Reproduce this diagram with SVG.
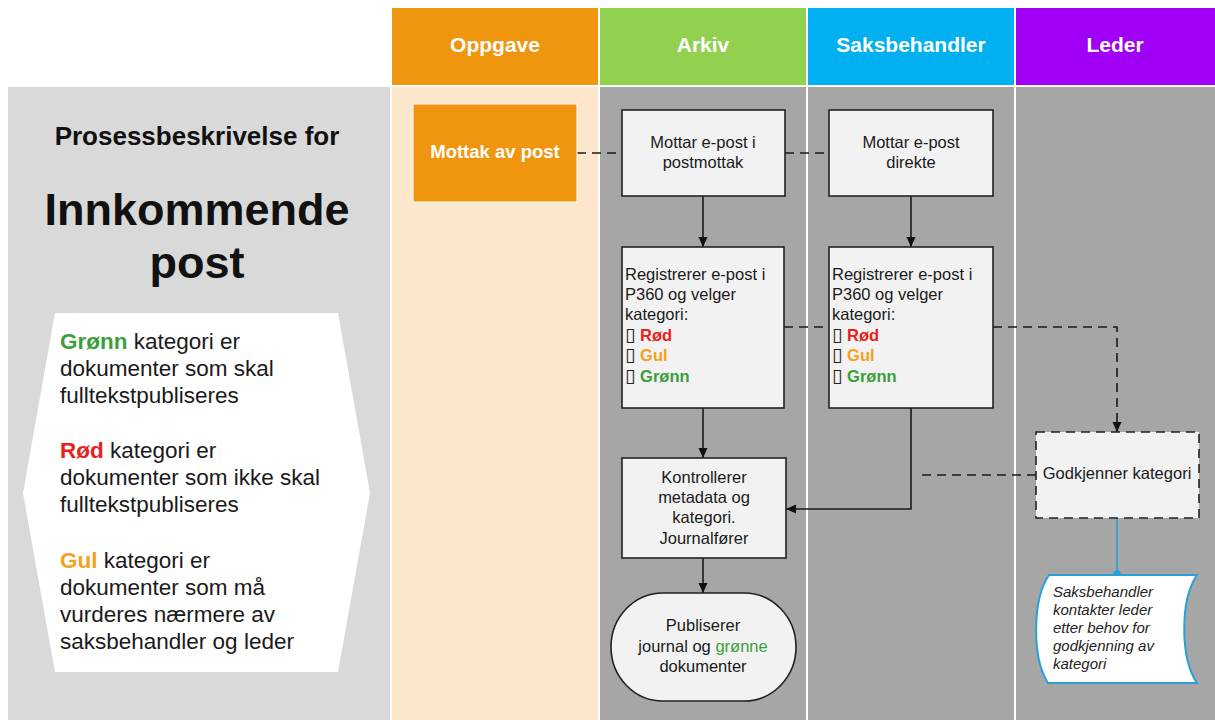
<svg xmlns="http://www.w3.org/2000/svg" width="1215" height="720" viewBox="0 0 1215 720">
<defs>
<style>
.hd{font-family:"Liberation Sans",Arial,sans-serif;font-weight:bold;font-size:21px;fill:#fff;text-anchor:middle}
.tx{font-family:"Liberation Sans",Arial,sans-serif;font-size:16.5px;fill:#1a1a1a}
.mid{text-anchor:middle}
.box{fill:#f2f2f2;stroke:#222;stroke-width:1.6}
.lg{font-family:"Liberation Sans",Arial,sans-serif;font-size:22.5px;fill:#1a1a1a}
.b{font-weight:bold}
.red{fill:#e8221b}
.yel{fill:#f4a11e}
.grn{fill:#3a9f3a}
.cb{font-family:"DejaVu Sans",sans-serif;font-weight:normal;fill:#222;font-size:19px}
.ln{fill:none;stroke:#1a1a1a;stroke-width:1.6}
.dash{stroke-dasharray:9 6}
</style>
<marker id="ah" viewBox="0 0 10 10" refX="10" refY="5" markerWidth="10" markerHeight="10" markerUnits="userSpaceOnUse" orient="auto">
<path d="M0,0.5 L10,5 L0,9.5 Z" fill="#111"/>
</marker>
</defs>
<rect x="0" y="0" width="1215" height="720" fill="#fff"/>
<g id="lanes">
<rect x="392" y="8" width="206" height="77" fill="#f0960e"/>
<rect x="600" y="8" width="206" height="77" fill="#92d050"/>
<rect x="808" y="8" width="206" height="77" fill="#00b0f0"/>
<rect x="1016" y="8" width="199" height="77" fill="#a000f6"/>
<text class="hd" x="495" y="52">Oppgave</text>
<text class="hd" x="703" y="52">Arkiv</text>
<text class="hd" x="911" y="52">Saksbehandler</text>
<text class="hd" x="1115" y="52">Leder</text>
<rect x="8" y="87" width="382" height="633" fill="#d9d9d9"/>
<rect x="392" y="87" width="206" height="633" fill="#fde7cc"/>
<rect x="600" y="87" width="206" height="633" fill="#a6a6a6"/>
<rect x="808" y="87" width="206" height="633" fill="#a6a6a6"/>
<rect x="1016" y="87" width="199" height="633" fill="#a6a6a6"/>
</g>
<g id="title">
<text x="197" y="145" text-anchor="middle" font-family="Liberation Sans, Arial, sans-serif" font-weight="bold" font-size="26" fill="#111">Prosessbeskrivelse for</text>
<text x="197" y="225" text-anchor="middle" font-family="Liberation Sans, Arial, sans-serif" font-weight="bold" font-size="45" fill="#111">Innkommende</text>
<text x="197" y="278" text-anchor="middle" font-family="Liberation Sans, Arial, sans-serif" font-weight="bold" font-size="45" fill="#111">post</text>
</g>
<g id="legend">
<polygon points="55,313 338,313 370,493 338,672 55,672 23,493" fill="#fff"/>
<text class="lg" x="60" y="349"><tspan class="b grn">Grønn</tspan> kategori er</text>
<text class="lg" x="60" y="376">dokumenter som skal</text>
<text class="lg" x="60" y="403">fulltekstpubliseres</text>
<text class="lg" x="60" y="458"><tspan class="b red">Rød</tspan> kategori er</text>
<text class="lg" x="60" y="485">dokumenter som ikke skal</text>
<text class="lg" x="60" y="512">fulltekstpubliseres</text>
<text class="lg" x="60" y="568"><tspan class="b yel">Gul</tspan> kategori er</text>
<text class="lg" x="60" y="595">dokumenter som må</text>
<text class="lg" x="60" y="622">vurderes nærmere av</text>
<text class="lg" x="60" y="649">saksbehandler og leder</text>
</g>
<g id="connectors">
<path class="ln dash" d="M577,153 H621"/>
<path class="ln dash" d="M785,153 H829"/>
<path class="ln" d="M703,196 V247" marker-end="url(#ah)"/>
<path class="ln" d="M911,196 V247" marker-end="url(#ah)"/>
<path class="ln dash" d="M784,327 H829"/>
<path class="ln dash" d="M993,327 H1117 V432" marker-end="url(#ah)"/>
<path class="ln" d="M703,408 V458" marker-end="url(#ah)"/>
<path class="ln" d="M911,408 V509 H786" marker-end="url(#ah)"/>
<path class="ln dash" d="M1036,475 H917"/>
<path class="ln" d="M703,558 V593" marker-end="url(#ah)"/>
<path d="M1117,518 V574" fill="none" stroke="#2a9fd8" stroke-width="1.6"/>
<circle cx="1117" cy="574" r="3.8" fill="#2a9fd8"/>
</g>
<g id="n-mottak">
<rect x="413" y="104" width="164" height="98" fill="#f0960e" stroke="#fff" stroke-width="1"/>
<text x="495" y="158" text-anchor="middle" font-family="Liberation Sans, Arial, sans-serif" font-weight="bold" font-size="18.5" fill="#fff">Mottak av post</text>
</g>
<g id="n-arkiv-mottar">
<rect class="box" x="622" y="110" width="163" height="86"/>
<text class="tx mid" x="703" y="148">Mottar e-post i</text>
<text class="tx mid" x="703" y="168">postmottak</text>
</g>
<g id="n-saks-mottar">
<rect class="box" x="829" y="110" width="164" height="86"/>
<text class="tx mid" x="911" y="148">Mottar e-post</text>
<text class="tx mid" x="911" y="168">direkte</text>
</g>
<g id="n-arkiv-reg">
<rect class="box" x="622" y="247" width="162" height="161"/>
<text class="tx" x="625" y="280">Registrerer e-post i</text>
<text class="tx" x="625" y="300">P360 og velger</text>
<text class="tx" x="625" y="320">kategori:</text>
<text class="tx" x="625" y="341"><tspan class="cb">▯</tspan> <tspan class="b red">Rød</tspan></text>
<text class="tx" x="625" y="361"><tspan class="cb">▯</tspan> <tspan class="b yel">Gul</tspan></text>
<text class="tx" x="625" y="382"><tspan class="cb">▯</tspan> <tspan class="b grn">Grønn</tspan></text>
</g>
<g id="n-saks-reg">
<rect class="box" x="829" y="247" width="164" height="161"/>
<text class="tx" x="832" y="280">Registrerer e-post i</text>
<text class="tx" x="832" y="300">P360 og velger</text>
<text class="tx" x="832" y="320">kategori:</text>
<text class="tx" x="832" y="341"><tspan class="cb">▯</tspan> <tspan class="b red">Rød</tspan></text>
<text class="tx" x="832" y="361"><tspan class="cb">▯</tspan> <tspan class="b yel">Gul</tspan></text>
<text class="tx" x="832" y="382"><tspan class="cb">▯</tspan> <tspan class="b grn">Grønn</tspan></text>
</g>
<g id="n-kontroll">
<rect class="box" x="622" y="458" width="164" height="100"/>
<text class="tx mid" x="704" y="483">Kontrollerer</text>
<text class="tx mid" x="704" y="503">metadata og</text>
<text class="tx mid" x="704" y="523">kategori.</text>
<text class="tx mid" x="704" y="544">Journalfører</text>
</g>
<g id="n-publiserer">
<rect class="box" x="611" y="593" width="185" height="108" rx="52" ry="54"/>
<text class="tx mid" x="703" y="631">Publiserer</text>
<text class="tx mid" x="703" y="652">journal og <tspan class="grn">grønne</tspan></text>
<text class="tx mid" x="703" y="672">dokumenter</text>
</g>
<g id="n-godkjenner">
<rect class="box dash" x="1036" y="432" width="163" height="86" stroke-width="1.8"/>
<text class="tx mid" x="1117" y="479">Godkjenner kategori</text>
</g>
<g id="n-note">
<path d="M1049,575 L1197,575 C1180,600 1180,658 1197,683 L1048,683 C1032,658 1032,600 1049,575 Z" fill="#fff" stroke="#2a9fd8" stroke-width="2"/>
<g font-family="Liberation Sans, Arial, sans-serif" font-style="italic" font-size="15" fill="#222">
<text x="1053" y="597">Saksbehandler</text>
<text x="1053" y="615">kontakter leder</text>
<text x="1053" y="633">etter behov for</text>
<text x="1053" y="651">godkjenning av</text>
<text x="1053" y="669">kategori</text>
</g>
</g>
</svg>
